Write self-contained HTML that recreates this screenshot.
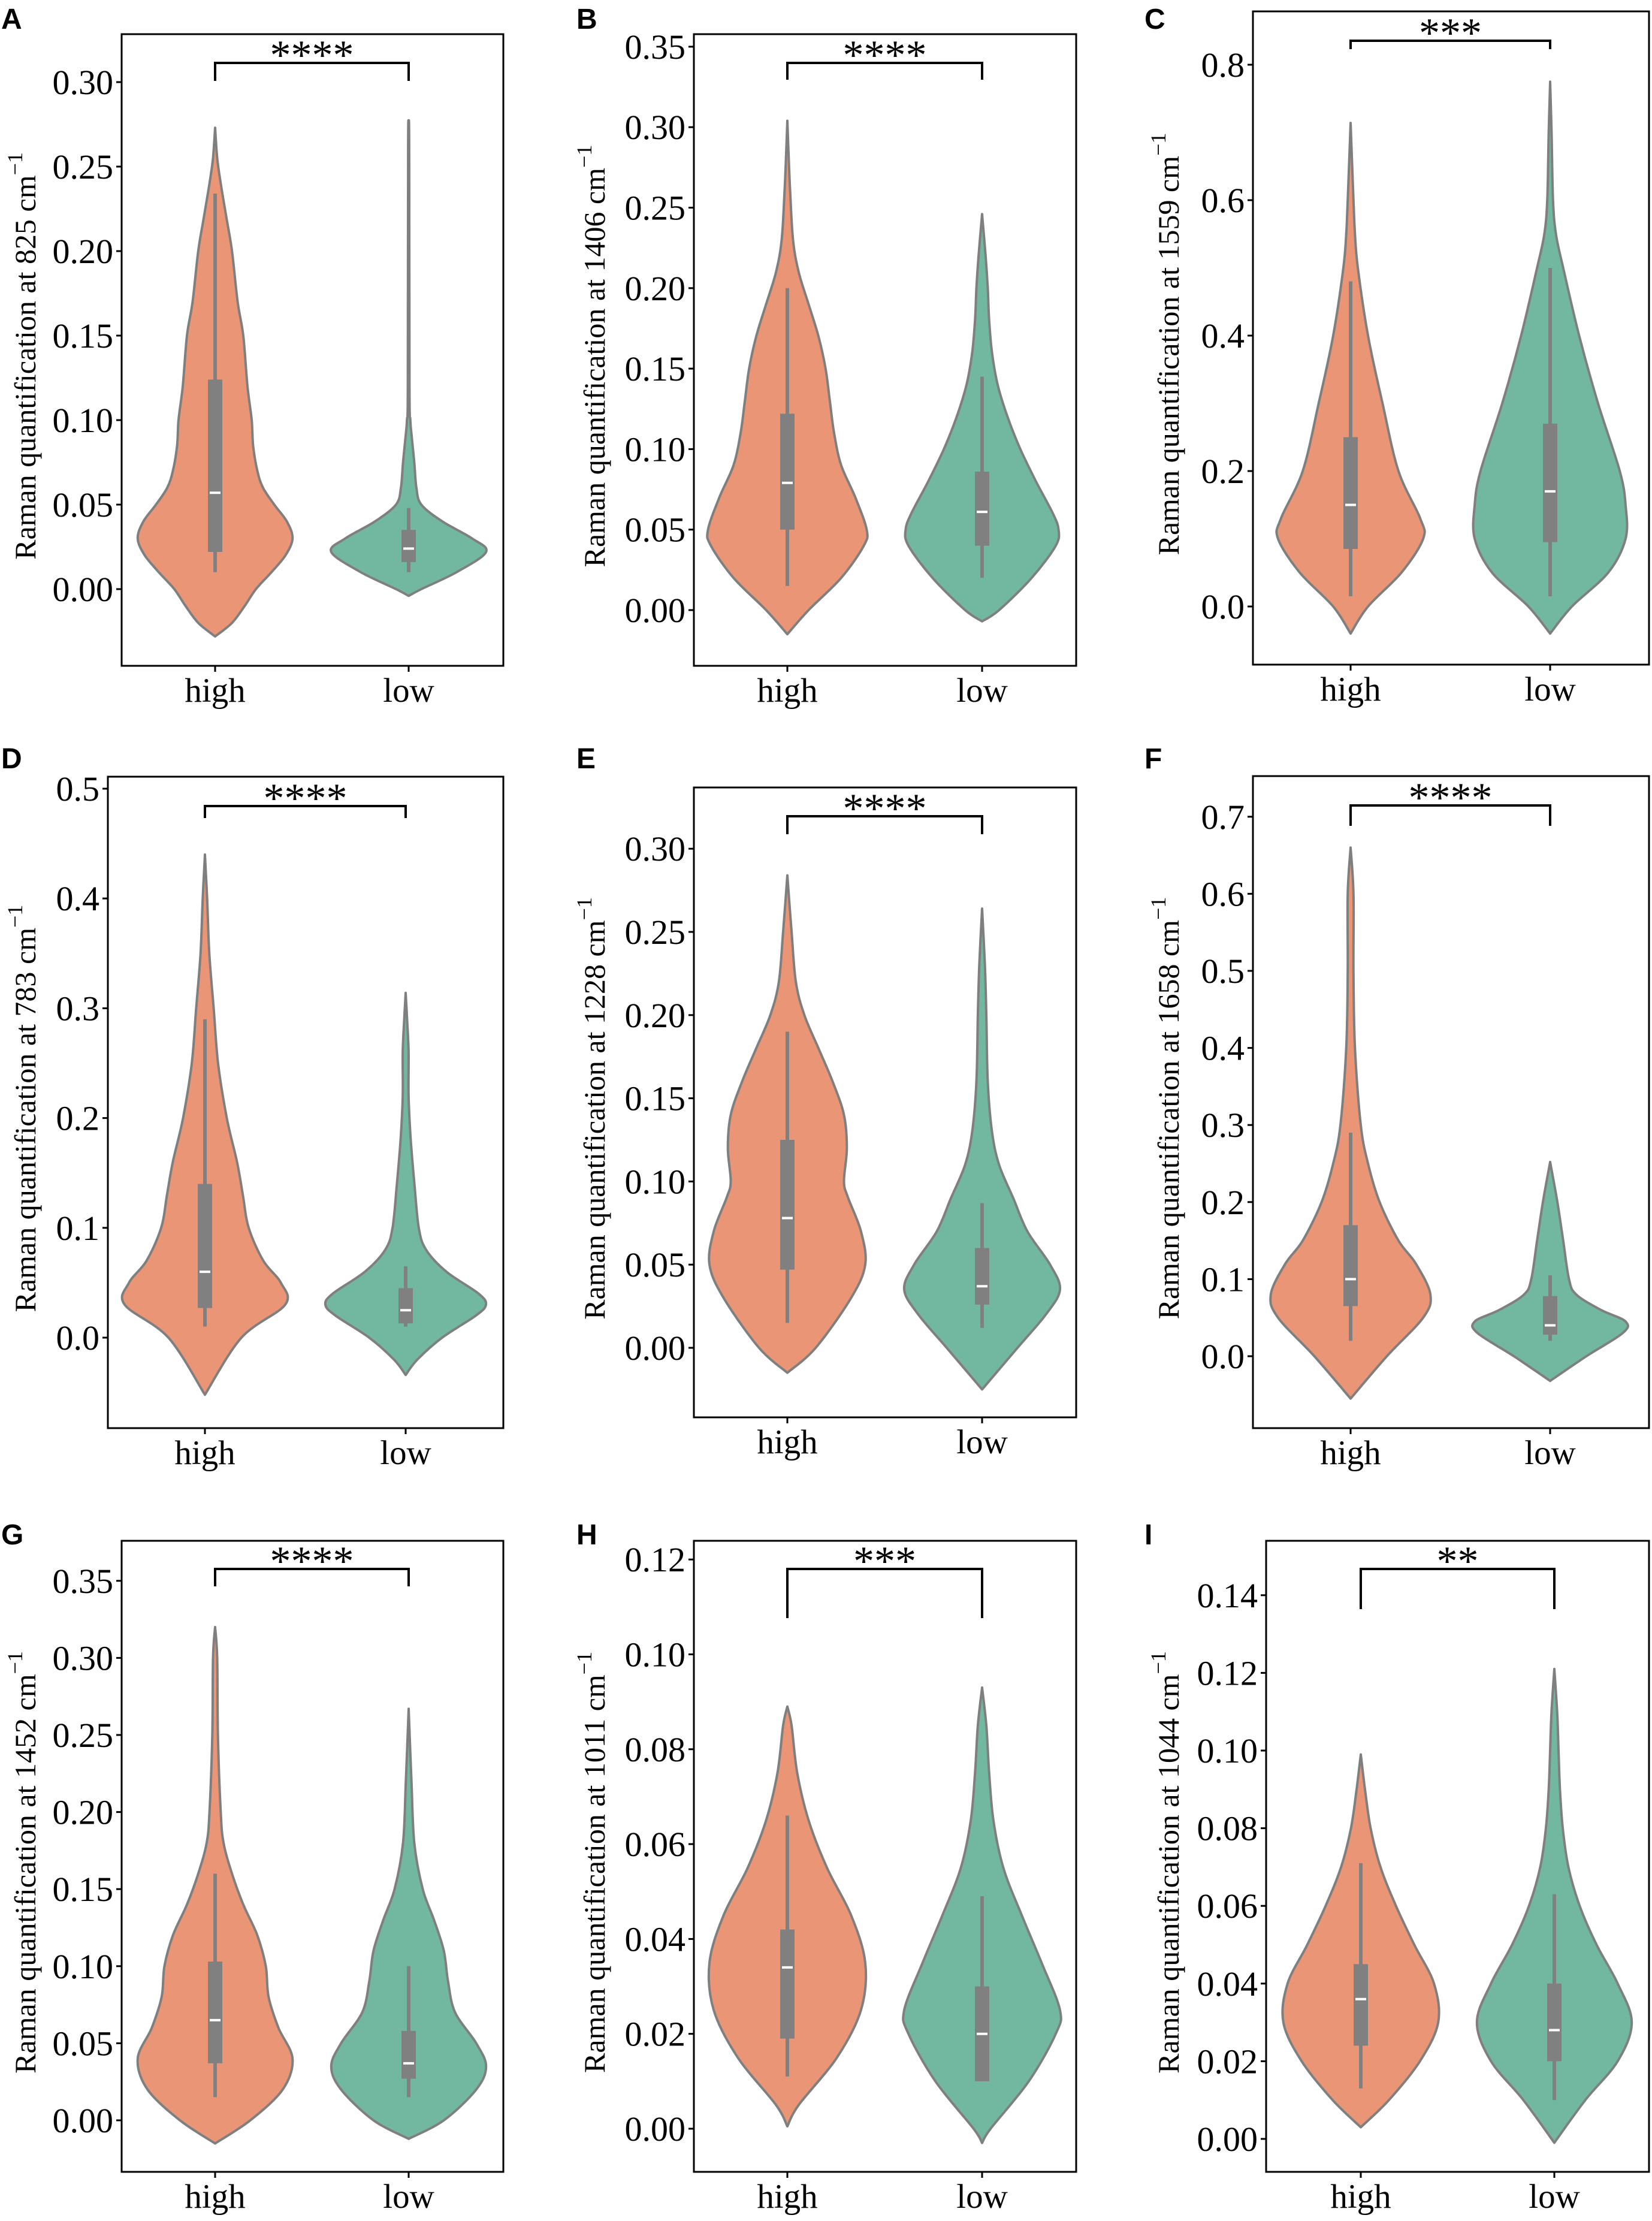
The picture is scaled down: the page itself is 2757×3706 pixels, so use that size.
<!DOCTYPE html>
<html><head><meta charset="utf-8"><style>
html,body{margin:0;padding:0;background:#fff;}
svg{display:block;}
text{font-family:"Liberation Serif",serif;fill:#000;}
.lt{font-family:"Liberation Sans",sans-serif;font-weight:bold;font-size:48px;}
</style></head><body>
<svg id="fig" width="2757" height="3706" viewBox="0 0 2757 3706" xmlns="http://www.w3.org/2000/svg"></svg>
<script>
const categories = ["high","low"];
const panelLetters = ["A","B","C","D","E","F","G","H","I"];
const wavenumbers = ["825","1406","1559","783","1228","1658","1452","1011","1044"];
const significance = ["****","****","***","****","****","****","****","***","**"];
const tickMax = [0.30,0.35,0.8,0.5,0.30,0.7,0.35,0.12,0.14];
const tickStep = [0.05,0.05,0.2,0.1,0.05,0.1,0.05,0.02,0.02];
const tickDecimals = [2,2,1,1,2,1,2,2,2];

// violin density profiles: [value, relative half-width]
const densA_high = [[-0.028,0],[-0.02,12],[-0.01,21],[0,29],[0.01,40],[0.02,50],[0.03,55],[0.04,51],[0.05,42],[0.06,34],[0.07,30],[0.085,27],[0.1,26],[0.12,23],[0.15,20],[0.17,16],[0.2,12],[0.22,8],[0.24,4],[0.255,1.5],[0.273,0]];
const densA_low = [[-0.004,0],[0,9],[0.01,34],[0.022,55],[0.03,45],[0.04,24],[0.05,9],[0.06,5.5],[0.075,4],[0.09,2.2],[0.1,1.2],[0.12,0.6],[0.26,0.4],[0.277,0]];
const densB_high = [[-0.015,0],[0,15],[0.02,38],[0.04,54],[0.05,56],[0.07,48],[0.09,38],[0.11,33],[0.13,30],[0.15,27],[0.17,22],[0.19,15],[0.21,8],[0.23,4],[0.26,2],[0.28,1],[0.304,0]];
const densB_low = [[-0.007,0],[0,12],[0.02,35],[0.04,52],[0.05,54],[0.06,50],[0.08,38],[0.1,27],[0.12,18],[0.14,11],[0.16,7],[0.18,5],[0.2,4],[0.22,2.5],[0.246,0]];
const densC_high = [[-0.04,0],[0,12],[0.05,35],[0.1,50],[0.13,48],[0.2,33],[0.3,22],[0.4,12],[0.5,5],[0.55,3],[0.6,2],[0.714,0]];
const densC_low = [[-0.04,0],[0,15],[0.05,40],[0.1,52],[0.15,52],[0.2,48],[0.3,33],[0.4,20],[0.5,9],[0.55,4],[0.6,2],[0.7,1],[0.775,0]];
const densD_high = [[-0.052,0],[0,25],[0.03,55],[0.05,52],[0.07,40],[0.1,30],[0.13,26],[0.16,22],[0.2,15],[0.25,9],[0.3,6],[0.35,3],[0.4,1.5],[0.44,0]];
const densD_low = [[-0.034,0],[-0.02,8],[0,25],[0.02,48],[0.03,55],[0.04,50],[0.06,28],[0.08,14],[0.1,9],[0.14,6],[0.18,3.5],[0.22,2],[0.26,2],[0.29,1],[0.314,0]];
const densE_high = [[-0.015,0],[0,20],[0.03,45],[0.05,55],[0.07,52],[0.09,43],[0.1,40],[0.12,42],[0.14,40],[0.16,32],[0.18,22],[0.2,12],[0.22,6],[0.25,3],[0.284,0]];
const densE_low = [[-0.025,0],[0,25],[0.02,45],[0.035,55],[0.05,48],[0.07,32],[0.09,22],[0.11,12],[0.13,7],[0.16,4],[0.2,3],[0.23,2],[0.264,0]];
const densF_high = [[-0.055,0],[0,25],[0.05,50],[0.08,55],[0.12,45],[0.15,33],[0.2,20],[0.25,12],[0.3,7],[0.4,3],[0.5,2],[0.6,2],[0.66,0]];
const densF_low = [[-0.032,0],[0,25],[0.03,50],[0.045,52],[0.06,35],[0.08,18],[0.1,13],[0.15,9],[0.2,5],[0.252,0]];
const densG_high = [[-0.015,0],[0,25],[0.02,48],[0.04,55],[0.06,45],[0.08,38],[0.1,36],[0.12,30],[0.14,20],[0.16,12],[0.18,6],[0.2,4],[0.25,2],[0.3,1.5],[0.32,0]];
const densG_low = [[-0.012,0],[0,25],[0.02,48],[0.035,55],[0.05,48],[0.07,33],[0.09,28],[0.11,25],[0.13,18],[0.15,10],[0.18,4],[0.22,2],[0.267,0]];
const densH_high = [[0.0005,0],[0.005,8],[0.015,35],[0.025,52],[0.035,55],[0.045,45],[0.055,28],[0.065,15],[0.075,7],[0.085,3],[0.089,0]];
const densH_low = [[-0.003,0],[0,6],[0.01,33],[0.02,52],[0.025,55],[0.035,42],[0.045,28],[0.055,15],[0.065,8],[0.075,5],[0.085,3],[0.093,0]];
const densI_high = [[0.003,0],[0.01,20],[0.02,42],[0.03,55],[0.04,52],[0.05,38],[0.06,25],[0.07,14],[0.08,7],[0.09,3],[0.099,0]];
const densI_low = [[-0.001,0],[0.01,22],[0.02,45],[0.03,55],[0.04,45],[0.05,30],[0.06,18],[0.07,10],[0.08,6],[0.09,4],[0.1,3],[0.11,2],[0.121,0]];
const densities = [[densA_high,densA_low],[densB_high,densB_low],[densC_high,densC_low],[densD_high,densD_low],[densE_high,densE_low],[densF_high,densF_low],[densG_high,densG_low],[densH_high,densH_low],[densI_high,densI_low]];

// box stats: [whiskerLow, q1, median, q3, whiskerHigh]
const boxHigh = [[0.01,0.022,0.057,0.124,0.234],[0.015,0.05,0.079,0.122,0.2],[0.015,0.085,0.15,0.25,0.48],[0.01,0.027,0.06,0.14,0.29],[0.015,0.047,0.078,0.125,0.19],[0.02,0.065,0.1,0.17,0.29],[0.015,0.037,0.065,0.103,0.16],[0.011,0.019,0.034,0.042,0.066],[0.013,0.024,0.036,0.045,0.071]];
const boxLow = [[0.01,0.016,0.024,0.035,0.048],[0.02,0.04,0.061,0.086,0.145],[0.015,0.095,0.17,0.27,0.5],[0.01,0.013,0.025,0.045,0.065],[0.012,0.026,0.037,0.06,0.087],[0.02,0.028,0.04,0.078,0.105],[0.015,0.027,0.037,0.058,0.1],[0.01,0.01,0.02,0.03,0.049],[0.01,0.02,0.028,0.04,0.063]];

// layout (pixel geometry, not data)
const layout = [
 {box:[203,57,840,1111],cx:[359,682],y0:983,ppu:2820,br:105,be:135},
 {box:[1158,57,1796,1111],cx:[1314,1639],y0:1018,ppu:2686,br:105,be:133},
 {box:[2091,19,2752,1109],cx:[2254,2587],y0:1012,ppu:1130,br:68,be:82},
 {box:[180,1296,840,2383],cx:[342,677],y0:2232,ppu:1832,br:1345,be:1365},
 {box:[1158,1314,1796,2365],cx:[1314,1639],y0:2249,ppu:2776,br:1362,be:1392},
 {box:[2091,1295,2752,2383],cx:[2254,2587],y0:2263,ppu:1286,br:1344,be:1378},
 {box:[203,2571,840,3624],cx:[359,682],y0:3538,ppu:2572,br:2618,be:2647},
 {box:[1158,2571,1796,3624],cx:[1314,1639],y0:3552,ppu:7915,br:2618,be:2700},
 {box:[2113,2571,2752,3624],cx:[2271,2594],y0:3569,ppu:6480,br:2618,be:2685}
];
const letterPos = [[2,48],[962,48],[1910,48],[2,1282],[962,1282],[1910,1282],[2,2577],[962,2577],[1910,2577]];
const ylabX = [43,993,1951,43,993,1951,43,993,1951];
const fills = ["#ea9575","#72b8a1"];

const NS="http://www.w3.org/2000/svg";
const svg=document.getElementById('fig');
function mk(tag,attrs,parent){const e=document.createElementNS(NS,tag);for(const k in attrs)e.setAttribute(k,attrs[k]);(parent||svg).appendChild(e);return e;}

function smoothSide(pts){ // catmull-rom to bezier
  let d="";
  for(let i=0;i<pts.length-1;i++){
    const p0=pts[Math.max(0,i-1)],p1=pts[i],p2=pts[i+1],p3=pts[Math.min(pts.length-1,i+2)];
    const c1=[p1[0]+(p2[0]-p0[0])/6,p1[1]+(p2[1]-p0[1])/6];
    const c2=[p2[0]-(p3[0]-p1[0])/6,p2[1]-(p3[1]-p1[1])/6];
    d+=` C${c1[0].toFixed(1)},${c1[1].toFixed(1)} ${c2[0].toFixed(1)},${c2[1].toFixed(1)} ${p2[0].toFixed(1)},${p2[1].toFixed(1)}`;
  }
  return d;
}

for(let p=0;p<9;p++){
  const L=layout[p];
  const g=mk('g',{});
  
  
  const yS=v=>L.y0-v*L.ppu;
  const spacing=L.cx[1]-L.cx[0];
  const wS=0.4*spacing/55;
  const [bx0,by0,bx1,by1]=L.box;

  // panel letter
  const lt=mk('text',{x:letterPos[p][0],y:letterPos[p][1],class:'lt'},g);
  lt.textContent=panelLetters[p];
  
  

  // violins
  for(let c=0;c<2;c++){
    const dens=densities[p][c];
    const cx=L.cx[c];
    const right=dens.map(([v,w])=>[cx+w*wS,yS(v)]);
    const left=dens.slice().reverse().map(([v,w])=>[cx-w*wS,yS(v)]);
    let d=`M${right[0][0]},${right[0][1]}`+smoothSide(right)+` L${left[0][0]},${left[0][1]}`+smoothSide(left)+'Z';
    const vp=mk('path',{d:d,fill:fills[c],stroke:'#7f7f7f','stroke-width':4,'stroke-linejoin':'round'},g);
    
    
    const b=(c===0?boxHigh:boxLow)[p];
    const wl=mk('line',{x1:cx,x2:cx,y1:yS(b[0]),y2:yS(b[4]),stroke:'#808080','stroke-width':6},g);
    
    
    const bb=mk('rect',{x:cx-12,y:yS(b[3]),width:24,height:Math.max(1,yS(b[1])-yS(b[3])),fill:'#808080'},g);
    
    
    const md=mk('line',{x1:cx-9,x2:cx+9,y1:yS(b[2]),y2:yS(b[2]),stroke:'#fff','stroke-width':4},g);
    
    
  }

  // frame
  const fr=mk('rect',{x:bx0,y:by0,width:bx1-bx0,height:by1-by0,fill:'none',stroke:'#000','stroke-width':3},g);
  
  

  // y ticks
  const nT=Math.round(tickMax[p]/tickStep[p]);
  for(let i=0;i<=nT;i++){
    const v=i*tickStep[p];const y=yS(v);
    const tk=mk('line',{x1:bx0-9,x2:bx0,y1:y,y2:y,stroke:'#000','stroke-width':3},g);
    
    
    const tl=mk('text',{x:bx0-14,y:y+20,'font-size':58,'text-anchor':'end'},g);
    tl.textContent=v.toFixed(tickDecimals[p]);
    
    
  }
  // x ticks
  for(let c=0;c<2;c++){
    const tk=mk('line',{x1:L.cx[c],x2:L.cx[c],y1:by1,y2:by1+10,stroke:'#000','stroke-width':3},g);
    
    
    const tl=mk('text',{x:L.cx[c],y:by1+60,'font-size':57,'text-anchor':'middle'},g);
    tl.textContent=categories[c];
    
    
  }
  // y label
  const ym=(by0+by1)/2+10;
  const yl=mk('text',{x:ylabX[p]+16,y:ym,'font-size':50,'text-anchor':'middle',transform:`rotate(-90 ${ylabX[p]+16} ${ym})`},g);
  
  
  yl.appendChild(document.createTextNode('Raman quantification at '+wavenumbers[p]+' cm'));
  const sup=mk('tspan',{dy:-22,'font-size':36},yl);
  sup.textContent='\u22121';

  // significance bracket
  const bp=mk('path',{d:`M${L.cx[0]},${L.be} L${L.cx[0]},${L.br} L${L.cx[1]},${L.br} L${L.cx[1]},${L.be}`,fill:'none',stroke:'#000','stroke-width':4},g);
  
  
  const st=mk('text',{x:(L.cx[0]+L.cx[1])/2,y:L.br+10,'font-size':70,'text-anchor':'middle'},g);
  st.textContent=significance[p];
  
  
}
</script>
</body></html>
